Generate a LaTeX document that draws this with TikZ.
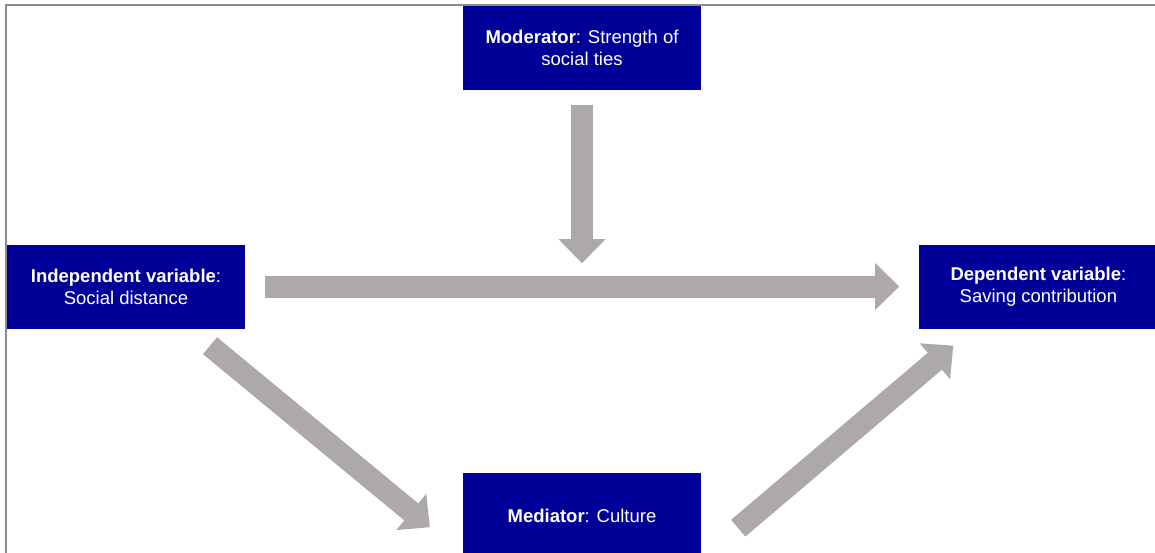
\documentclass[tikz,border=0pt]{standalone}
\usepackage{fontspec}
\setmainfont{Liberation Sans}
\usepackage{tikz}
\usetikzlibrary{positioning, arrows.meta}
\definecolor{boxblue}  {RGB}{0,   0,   153}
\definecolor{arrowgray}{RGB}{173, 169, 168}
\definecolor{framegray}{RGB}{140, 140, 140}
\tikzset{
  varbox/.style={
    rectangle, fill=boxblue, text=white,
    minimum width=238pt, minimum height=84pt,
    inner sep=0pt, align=center,
    font=\fontsize{18.5}{22}\selectfont
  },
  blockarrow/.style={
    draw=arrowgray, line width=22pt,
    -{Triangle[length=24pt, width=47pt, line width=0pt]}
  },
}

\begin{document}
\begin{tikzpicture}[x=1pt, y=-1pt]
  \useasboundingbox (0,0) rectangle (1155,553);
  % Frame
  \draw[framegray, line width=2pt] (6,553) -- (6,5.5) -- (1155,5.5);

  % Variables
  \node[varbox] (indep) at (126,286.5) {\textbf{Independent variable}:\\Social distance};
  \node[varbox, right=674pt of indep] (dep) {\textbf{Dependent variable}:\\Saving contribution};
  \node[varbox] (mod) at (582,48) {\textbf{Moderator}: Strength of\\social ties};
  \node[varbox, below=383pt of mod] (med) {\textbf{Mediator}: Culture};

  % Moderating effect
  \coordinate (modtip) at ([yshift=-173pt]mod.south);
  \draw[blockarrow, shorten <=15pt] (mod) -- (modtip);

  % Direct effect
  \draw[blockarrow, shorten <=20pt, shorten >=20pt] (indep) -- (dep);

  % Mediation path
  \draw[blockarrow] ([xshift=84pt, yshift=-17pt]indep.south)
        -- ([xshift=-33pt, yshift=-54pt]med.north west);
  \draw[blockarrow] ([xshift=37pt, yshift=-55pt]med.north east)
        -- ([xshift=34pt, yshift=-17pt]dep.south west);
\end{tikzpicture}
\end{document}
